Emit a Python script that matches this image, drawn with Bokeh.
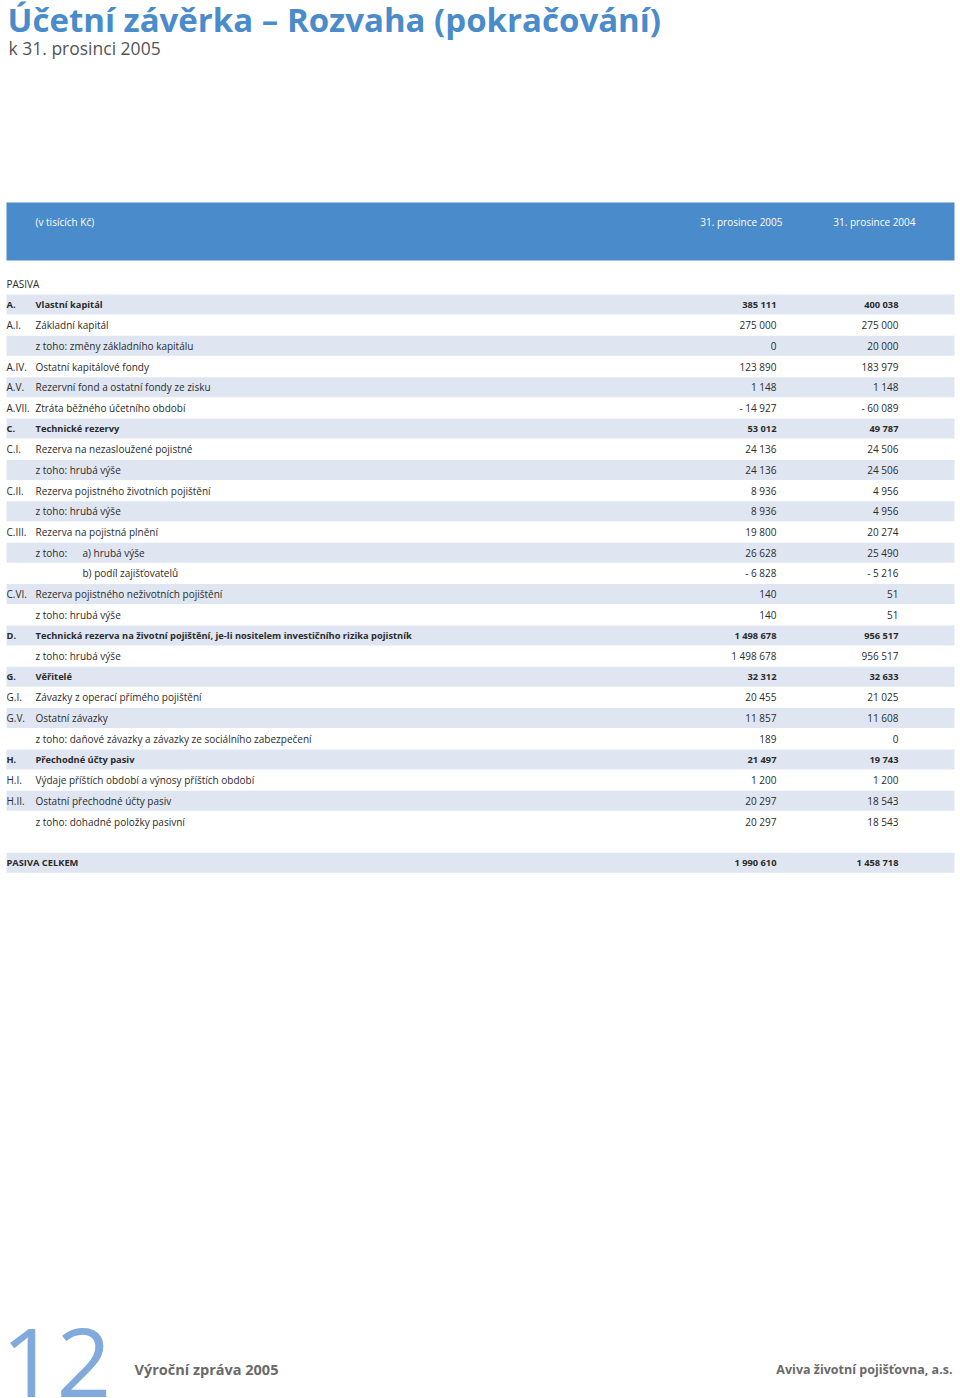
from bokeh.plotting import figure
from bokeh.models import ColumnDataSource, Range1d
from bokeh.core.properties import value
from bokeh.embed import file_html
from bokeh.resources import INLINE

# ---------------- data ----------------
title = "Účetní závěrka – Rozvaha (pokračování)"
subtitle = "k 31. prosinci 2005"
unit_label = "(v tisících Kč)"
col_headers = ["31. prosince 2005", "31. prosince 2004"]
section_label = "PASIVA"

codes = ["A.", "A.I.", "", "A.IV.", "A.V.", "A.VII.", "C.", "C.I.", "", "C.II.", "",
         "C.III.", "", "", "C.VI.", "", "D.", "", "G.", "G.I.", "G.V.", "", "H.", "H.I.",
         "H.II.", ""]
labels = ["Vlastní kapitál", "Základní kapitál", "z toho: změny základního kapitálu",
          "Ostatní kapitálové fondy", "Rezervní fond a ostatní fondy ze zisku",
          "Ztráta běžného účetního období", "Technické rezervy",
          "Rezerva na nezasloužené pojistné", "z toho: hrubá výše",
          "Rezerva pojistného životních pojištění", "z toho: hrubá výše",
          "Rezerva na pojistná plnění", "z toho:", "",
          "Rezerva pojistného neživotních pojištění", "z toho: hrubá výše",
          "Technická rezerva na životní pojištění, je-li nositelem investičního rizika pojistník",
          "z toho: hrubá výše", "Věřitelé", "Závazky z operací přímého pojištění",
          "Ostatní závazky", "z toho: daňové závazky a závazky ze sociálního zabezpečení",
          "Přechodné účty pasiv", "Výdaje příštích období a výnosy příštích období",
          "Ostatní přechodné účty pasiv", "z toho: dohadné položky pasivní"]
sublabels = [""] * 12 + ["a) hrubá výše", "b) podíl zajišťovatelů"] + [""] * 12
values_2005 = [385111, 275000, 0, 123890, 1148, -14927, 53012, 24136, 24136, 8936, 8936,
               19800, 26628, -6828, 140, 140, 1498678, 1498678, 32312, 20455, 11857, 189,
               21497, 1200, 20297, 20297]
values_2004 = [400038, 275000, 20000, 183979, 1148, -60089, 49787, 24506, 24506, 4956, 4956,
               20274, 25490, -5216, 51, 51, 956517, 956517, 32633, 21025, 11608, 0,
               19743, 1200, 18543, 18543]
bold_rows = ["A.", "C.", "D.", "G.", "H."]

total_label = "PASIVA CELKEM"
total_2005 = 1990610
total_2004 = 1458718

footer_page = "12"
footer_left = "Výroční zpráva 2005"
footer_right = "Aviva životní pojišťovna, a.s."

# ---------------- helpers ----------------
def fmt(v):
    s = f"{abs(v):,}".replace(",", " ")
    return ("- " + s) if v < 0 else s

BLUE = "#4a8bcb"
SHADE = "#dfe6f2"
TXT = "#2b2b2b"
FONT = "Open Sans"

p = figure(width=960, height=1398, output_backend="svg", toolbar_location=None,
           x_range=Range1d(0, 960), y_range=Range1d(1398, 0),
           min_border=0, background_fill_color="white", border_fill_color="white")
p.axis.visible = False
p.xgrid.visible = False
p.ygrid.visible = False
p.outline_line_color = None

# title
p.text(x=[7], y=[19], text=[title], text_font=value(FONT), text_font_size="33px",
       text_font_style="bold", text_color=BLUE, text_baseline="middle")
p.text(x=[8], y=[47], text=[subtitle], text_font=value(FONT), text_font_size="17.5px",
       text_color="#555555", text_baseline="middle")

# header band
p.quad(left=[6], right=[954], top=[202], bottom=[260], fill_color=BLUE, line_color=None)
p.text(x=[35], y=[221], text=[unit_label], text_font=value(FONT), text_font_size="10px",
       text_color="white", text_baseline="middle")
p.text(x=[782, 915], y=[221, 221], text=col_headers, text_font=value(FONT),
       text_font_size="10px", text_color="white", text_baseline="middle", text_align="right")

p.text(x=[6], y=[283], text=[section_label], text_font=value(FONT), text_font_size="10px",
       text_color=TXT, text_baseline="middle")

# rows
y0, dy = 304.0, 20.68
n = len(codes)
ys = [y0 + i * dy for i in range(n)]
total_y = y0 + (n + 1) * dy

shade_y = [ys[i] for i in range(n) if i % 2 == 0] + [total_y]
p.quad(left=6, right=954, top=[y - 10 for y in shade_y], bottom=[y + 10 for y in shade_y],
       fill_color=SHADE, line_color=None)

is_bold = [c in bold_rows for c in codes]
for flag, style, size in [(False, "normal", "10px"), (True, "bold", "9.3px")]:
    idx = [i for i in range(n) if is_bold[i] == flag]
    src = ColumnDataSource(dict(
        y=[ys[i] for i in idx],
        code=[codes[i] for i in idx],
        label=[labels[i] for i in idx],
        sub=[sublabels[i] for i in idx],
        v5=[fmt(values_2005[i]) for i in idx],
        v4=[fmt(values_2004[i]) for i in idx],
    ))
    common = dict(source=src, y="y", text_font=value(FONT), text_font_size=size,
                  text_font_style=style, text_color=TXT, text_baseline="middle")
    p.text(x=6, text="code", **common)
    p.text(x=35, text="label", **common)
    p.text(x=82, text="sub", **common)
    p.text(x=776, text="v5", text_align="right", **common)
    p.text(x=898, text="v4", text_align="right", **common)

tcommon = dict(y=[total_y], text_font=value(FONT), text_font_size="9.3px",
               text_font_style="bold", text_color=TXT, text_baseline="middle")
p.text(x=[6], text=[total_label], **tcommon)
p.text(x=[776], text=[fmt(total_2005)], text_align="right", **tcommon)
p.text(x=[898], text=[fmt(total_2004)], text_align="right", **tcommon)

# footer
p.text(x=[1], y=[1362], text=[footer_page], text_font=value(FONT), text_font_size="96px",
       text_color="#80a9dc", text_baseline="middle")
p.text(x=[134], y=[1369], text=[footer_left], text_font=value(FONT), text_font_size="14.5px",
       text_font_style="bold", text_color="#6a6a6a", text_baseline="middle")
p.text(x=[952], y=[1369], text=[footer_right], text_font=value(FONT), text_font_size="12.5px",
       text_font_style="bold", text_color="#6a6a6a", text_baseline="middle", text_align="right")

open("out.html", "w").write(file_html(p, INLINE))
